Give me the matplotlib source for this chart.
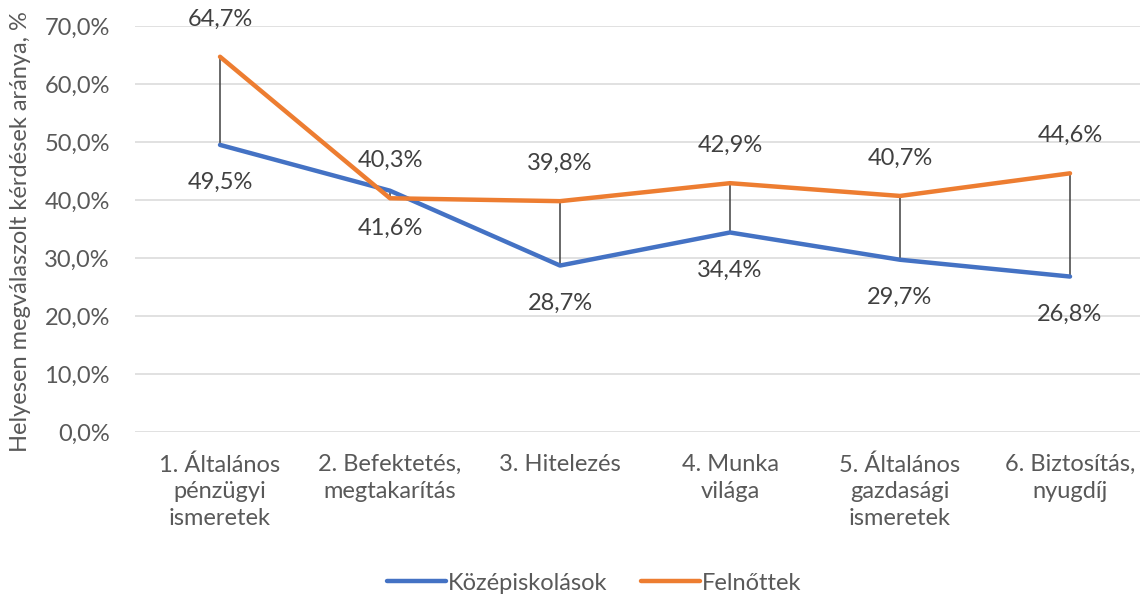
import matplotlib
matplotlib.use("Agg")
import matplotlib.pyplot as plt
from matplotlib.ticker import FuncFormatter

plt.rcParams['font.family'] = ['Lato', 'DejaVu Sans']

categories = ["1. Általános\npénzügyi\nismeretek", "2. Befektetés,\nmegtakarítás", "3. Hitelezés",
              "4. Munka\nvilága", "5. Általános\ngazdasági\nismeretek", "6. Biztosítás,\nnyugdíj"]
kozep = [49.5, 41.6, 28.7, 34.4, 29.7, 26.8]
felnott = [64.7, 40.3, 39.8, 42.9, 40.7, 44.6]

W, H = 1140, 594
fig = plt.figure(figsize=(W/100, H/100), dpi=100)
ax = fig.add_axes([135/W, (H-432)/H, 1020/W, 406/H])

txt = '#595959'
blue = '#4472C4'
orange = '#ED7D31'
fs = 17
x = list(range(len(categories)))

for i in x:
    ax.plot([i, i], [kozep[i], felnott[i]], color='#404040', lw=1.1, zorder=2)
lb, = ax.plot(x, kozep, color=blue, lw=3.2, solid_capstyle='round', zorder=3, label='Középiskolások')
lo, = ax.plot(x, felnott, color=orange, lw=3.2, solid_capstyle='round', zorder=3, label='Felnőttek')

fmt = lambda v: f"{v:.1f}%".replace('.', ',')
for i in x:
    ax.annotate(fmt(felnott[i]), (i, felnott[i]), xytext=(0, 27), textcoords='offset points',
                ha='center', va='center', fontsize=fs, color='#404040')
    ax.annotate(fmt(kozep[i]), (i, kozep[i]), xytext=(0, -27), textcoords='offset points',
                ha='center', va='center', fontsize=fs, color='#404040')

ax.set_xlim(-0.5, len(categories) - 0.5)
ax.set_ylim(0, 70)
ax.set_yticks(range(0, 71, 10))
ax.yaxis.set_major_formatter(FuncFormatter(lambda v, p: f"{v:.1f}%".replace('.', ',')))
ax.set_xticks(x)
ax.set_xticklabels(categories, linespacing=1.32)
ax.tick_params(axis='both', length=0, labelsize=fs, colors=txt)
ax.tick_params(axis='y', pad=18)
ax.tick_params(axis='x', pad=16)
ax.grid(axis='y', color='#D9D9D9', lw=1.1)
ax.set_axisbelow(True)
for s in ax.spines.values():
    s.set_visible(False)
ax.set_ylabel("Helyesen megválaszolt kérdések aránya, %", fontsize=fs, color=txt)
ax.yaxis.set_label_coords((31 - 135) / 1020, (432 - 232) / 406)

fig.legend(handles=[lb, lo], loc='center', bbox_to_anchor=(594/W, 11/H), ncol=2, frameon=False,
           fontsize=fs, labelcolor=txt, handlelength=2.5, handletextpad=0.1, columnspacing=1.4)

fig.savefig('out.png', dpi=100)
